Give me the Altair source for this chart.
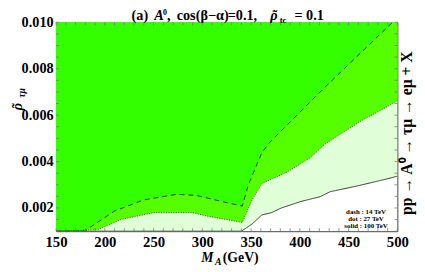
import altair as alt
import pandas as pd

# ---- data ----
dash_x = [150, 180, 185, 210, 240, 274, 294, 320, 341, 347, 361, 369, 425, 495, 500]
dash_y = [0.00100, 0.00100, 0.00117, 0.00187, 0.00235, 0.00259, 0.00254, 0.00228,
          0.00208, 0.00298, 0.00438, 0.00482, 0.00717, 0.01000, 0.01020]
dot_x = [150, 193, 200, 217, 250, 290, 304, 341, 351, 361, 387, 411, 425, 440, 465, 488, 500]
dot_y = [0.00100, 0.00107, 0.00120, 0.00151, 0.00180, 0.00180, 0.00166, 0.00138,
         0.00235, 0.00305, 0.00355, 0.00417, 0.00473, 0.00514, 0.00581, 0.00633, 0.00662]
solid_x = [150, 340, 351, 361, 371, 381, 401, 421, 431, 462, 490, 500]
solid_y = [0.00100, 0.00100, 0.00131, 0.00170, 0.00180, 0.00200, 0.00228, 0.00249,
           0.00270, 0.00298, 0.00326, 0.00337]

x_labels = [150, 200, 250, 300, 350, 400, 450, 500]
y_labels = [0.002, 0.004, 0.006, 0.008, 0.010]
x_minor = list(range(150, 501, 10))
y_minor = [0.001 + 0.0005 * i for i in range(19)]
y_top = 0.0105

legend_lines = ["dash : 14 TeV", "dot : 27 TeV", "solid : 100 TeV"]

W, H = 348, 213
SERIF = "Liberation Serif"

xs = alt.Scale(domain=[150, 500], nice=False, zero=False)
ys = alt.Scale(domain=[0.001, 0.010], nice=False, zero=False)

xenc = alt.X("x:Q", scale=xs, axis=alt.Axis(values=x_labels, title=None, grid=False, ticks=False,
                                             domain=False, labelFont=SERIF, labelFontWeight="bold",
                                             labelFontSize=15, labelColor="black", labelPadding=4,
                                             labelFlush=False))
yenc = alt.Y("y:Q", scale=ys, axis=alt.Axis(values=y_labels, format=".3f", title=None, grid=False,
                                             ticks=False, domain=False, labelFont=SERIF,
                                             labelFontWeight="bold", labelFontSize=14.5,
                                             labelColor="black", labelPadding=3, labelFlush=False))

def area(xv, yv, color):
    d = pd.DataFrame({"x": xv, "y": yv})
    d["top"] = y_top
    return alt.Chart(d).mark_area(
        color=color, fillOpacity=1, clip=True, interpolate="linear", line=False
    ).encode(x=xenc, y=yenc, y2="top:Q")

light = area(solid_x, solid_y, "#E0FFD8")
mid = area(dot_x, dot_y, "#55FF00")
top = area(dash_x, dash_y, "#33FF00")

def line(xv, yv, dash, width=1.0, color="#333333"):
    d = pd.DataFrame({"x": xv, "y": yv})
    return alt.Chart(d).mark_line(
        color=color, strokeWidth=width, strokeDash=dash, clip=True
    ).encode(x=alt.X("x:Q", scale=xs), y=alt.Y("y:Q", scale=ys))

l_solid = line(solid_x, solid_y, [1, 0], 1.0, "#333333")
l_dot = line(dot_x, dot_y, [1, 1.5], 1.0, "#444444")
l_dash = line(dash_x, dash_y, [5, 4], 1.0, "#333333")

# inner frame ticks
xt = pd.DataFrame({"x": x_minor})
yt = pd.DataFrame({"y": y_minor})
ticks_b = alt.Chart(xt).mark_rule(color="#777777", strokeWidth=0.8).encode(
    x="x:Q", y=alt.value(H), y2=alt.value(H - 3))
ticks_t = alt.Chart(xt).mark_rule(color="#777777", strokeWidth=0.8).encode(
    x="x:Q", y=alt.value(0), y2=alt.value(3))
ticks_l = alt.Chart(yt).mark_rule(color="#777777", strokeWidth=0.8).encode(
    y="y:Q", x=alt.value(0), x2=alt.value(3))
ticks_r = alt.Chart(yt).mark_rule(color="#777777", strokeWidth=0.8).encode(
    y="y:Q", x=alt.value(W), x2=alt.value(W - 3))

# texts
def txt(t, x, y, size=13, align="center", baseline="alphabetic", angle=0, style="normal",
        weight="bold"):
    return alt.Chart(pd.DataFrame({"t": [t]})).mark_text(
        font=SERIF, fontSize=size, fontWeight=weight, fontStyle=style, align=align,
        baseline=baseline, angle=angle, color="black"
    ).encode(text="t:N", x=alt.value(x), y=alt.value(y))

TY = -2
TS = 14.5
title_parts = [
    txt("(a)", 77, TY, TS, align="left"),
    txt("A", 100, TY, TS, align="left", style="italic"),
    txt("0", 109, TY - 5, 8, align="left"),
    txt(",", 113, TY, TS, align="left"),
    txt("cos(β−α)", 123, TY, TS, align="left"),
    txt("=0.1,", 175, TY, TS, align="left"),
    txt("ρ", 222, TY, TS, align="center", style="italic"),
    txt("˜", 223, TY, TS, align="center"),
    txt("tc", 228, TY + 3, 9, align="left"),
    txt("= 0.1", 243, TY, TS, align="left"),
]

xtitle = [
    txt("M", 148, 244, 14, align="left", style="italic"),
    txt("A", 162, 247, 10, align="left", style="italic"),
    txt("(GeV)", 170, 244, 14, align="left"),
]

ytitle = [
    txt("ρ", -35, 86, 15, align="center", angle=270, style="italic"),
    txt("˜", -35, 85, 15, align="center", angle=270),
    txt("τμ", -32, 72, 10, align="center", angle=270, style="italic"),
]

rt = txt("pp → A⁰ → τμ → eμ + X", 358, 113, 16, align="center", baseline="middle", angle=270)

leg = [txt(t, 316, 195 + 7.5 * i, 7, align="center") for i, t in enumerate(legend_lines)]

chart = alt.layer(
    light, mid, top, l_solid, l_dot, l_dash,
    ticks_b, ticks_t, ticks_l, ticks_r,
    *title_parts, *xtitle, *ytitle, rt, *leg
).properties(
    width=W, height=H,
    autosize=alt.AutoSizeParams(type="none"),
    padding={"left": 49, "top": 12, "right": 20, "bottom": 38},
).configure_view(stroke="#444444", strokeWidth=1, fill="white")

chart.save("out.html", embed_options={"renderer": "svg", "actions": False})
